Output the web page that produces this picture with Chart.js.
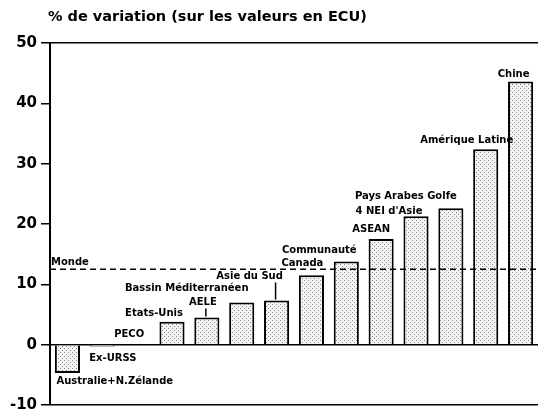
<!DOCTYPE html>
<html>
<head>
<meta charset="utf-8">
<script src="https://cdn.jsdelivr.net/npm/chart.js@4"></script>
<style>
body{margin:0;background:#fff;}
#wrap{width:538px;height:410px;position:relative;}
</style>
</head>
<body>
<div id="wrap"><canvas id="variationChart"></canvas></div>
<script>
var regions = ["Australie+N.Zélande", "Ex-URSS", "PECO", "Etats-Unis", "AELE", "Bassin Méditerranéen", "Asie du Sud", "Canada", "Communauté", "ASEAN", "4 NEI d'Asie", "Pays Arabes Golfe", "Amérique Latine", "Chine"];
var variation = [-4.7, -0.3, 0, 3.8, 4.5, 7.0, 7.3, 11.5, 13.8, 17.5, 21.3, 22.6, 32.4, 43.6];
var monde = 12.5;
var yTicks = [-10, 0, 10, 20, 30, 40, 50];
var titleText = "% de variation (sur les valeurs en ECU)";

// where each region name sits: [px offset from bar centre, y value, align, leader line]
var labelPlace = [
	[-11, -6.1, 'left'],
	[-13, -2.3, 'left'],
	[-8, 1.65, 'center'],
	[-18, 5.15, 'center'],
	[-4, 7.0, 'center', true],
	[-55, 9.3, 'center'],
	[-27, 11.3, 'center', true],
	[-9, 13.45, 'center'],
	[-27, 15.7, 'center'],
	[-10, 19.05, 'center'],
	[-27, 22.1, 'center'],
	[-45, 24.6, 'center'],
	[-19, 33.9, 'center'],
	[-7, 44.8, 'center']
];

var fontFamily = '"DejaVu Sans", Verdana, sans-serif';

function dotPattern(){
	var c = document.createElement('canvas');
	c.width = 4; c.height = 4;
	var g = c.getContext('2d');
	g.fillStyle = '#f4f4f4';
	g.fillRect(0, 0, 4, 4);
	g.fillStyle = '#888';
	g.fillRect(0, 0, 1, 1);
	g.fillRect(2, 2, 1, 1);
	return g.createPattern(c, 'repeat');
}

var annotations = {
	id: 'annotations',
	afterDatasetsDraw: function(chart){
		var ctx = chart.ctx, xs = chart.scales.x, ys = chart.scales.y, area = chart.chartArea;
		ctx.save();
		// Monde reference line
		var ym = ys.getPixelForValue(monde);
		ctx.strokeStyle = '#000';
		ctx.lineWidth = 1.5;
		ctx.setLineDash([6, 4]);
		ctx.beginPath();
		ctx.moveTo(area.left, ym);
		ctx.lineTo(area.right, ym);
		ctx.stroke();
		ctx.setLineDash([]);

		ctx.fillStyle = '#000';
		ctx.font = 'bold 10px ' + fontFamily;
		ctx.textBaseline = 'middle';
		ctx.textAlign = 'left';
		ctx.fillText('Monde', area.left + 1, ys.getPixelForValue(monde) - 7);

		for (var i = 0; i < regions.length; i++){
			var p = labelPlace[i];
			var bx = xs.getPixelForValue(i);
			var ly = ys.getPixelForValue(p[1]);
			ctx.textAlign = p[2];
			ctx.fillText(regions[i], bx + p[0], ly);
			if (p[3]){
				var lx = bx - 1;
				ctx.lineWidth = 1.5;
				ctx.beginPath();
				ctx.moveTo(lx, ly + 6);
				ctx.lineTo(lx, ys.getPixelForValue(variation[i]) - 1);
				ctx.stroke();
			}
		}

		ctx.font = 'bold 14.5px ' + fontFamily;
		ctx.textAlign = 'left';
		ctx.fillText(titleText, 48, 17);
		ctx.restore();
	}
};

var chart = new Chart(document.getElementById('variationChart'), {
	type: 'bar',
	data: {
		labels: regions,
		datasets: [{
			data: variation,
			backgroundColor: dotPattern(),
			borderColor: '#000',
			borderWidth: 2,
			barPercentage: 0.72,
			categoryPercentage: 1
		}]
	},
	options: {
		responsive: true,
		maintainAspectRatio: false,
		animation: false,
		layout: { padding: { top: 43, bottom: 5, left: 0, right: -3 } },
		plugins: { legend: { display: false }, tooltip: { enabled: false } },
		scales: {
			x: { display: false },
			y: {
				min: -10,
				max: 50,
				afterFit: function(s){
					s.width = 50;
					s.paddingTop = 0;
					s.paddingBottom = 0;
				},
				afterBuildTicks: function(s){ s.ticks = yTicks.map(function(v){ return { value: v }; }); },
				border: { display: true, color: '#000', width: 2 },
				grid: {
					color: function(c){
						var v = c.tick ? c.tick.value : null;
						return (v === 0 || v === 50 || v === -10) ? '#000' : 'rgba(0,0,0,0)';
					},
					lineWidth: 1.5,
					tickColor: '#000',
					tickLength: 9
				},
				ticks: {
					color: '#000',
					padding: 4,
					font: { family: fontFamily, size: 15, weight: 'bold' }
				}
			}
		}
	},
	plugins: [annotations]
});
</script>
</body>
</html>
